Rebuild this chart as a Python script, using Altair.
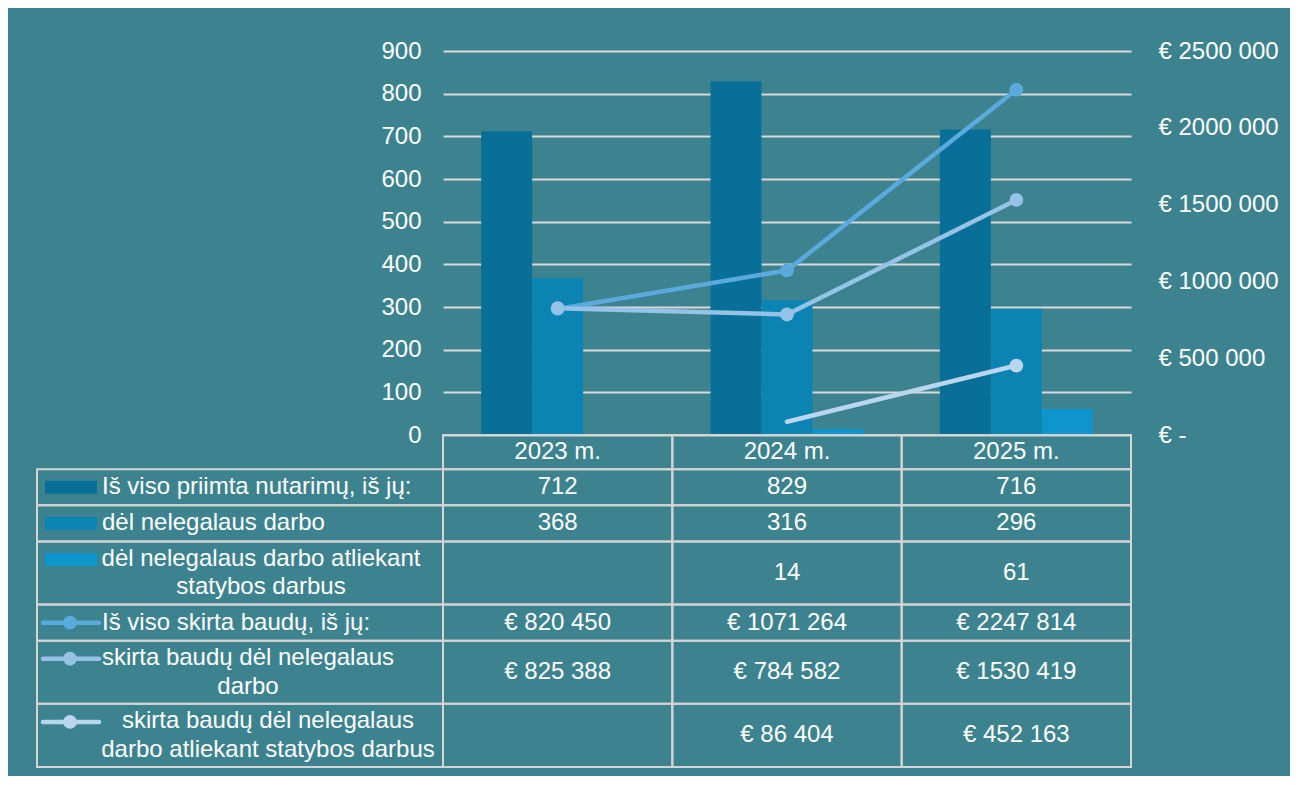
import altair as alt
import pandas as pd
import numpy as np

# ---------------- data ----------------
years = ["2023 m.", "2024 m.", "2025 m."]

bar_series = ["Iš viso priimta nutarimų, iš jų:",
              "dėl nelegalaus darbo",
              "dėl nelegalaus darbo atliekant statybos darbus"]
decisions_total = [712, 829, 716]
decisions_illegal = [368, 316, 296]
decisions_construction = [None, 14, 61]

line_series = ["Iš viso skirta baudų, iš jų:",
               "skirta baudų dėl nelegalaus darbo",
               "skirta baudų dėl nelegalaus darbo atliekant statybos darbus"]
fines_total = [820450, 1071264, 2247814]
fines_illegal = [825388, 784582, 1530419]
fines_construction = [None, 86404, 452163]

legend_labels = ["Iš viso priimta nutarimų, iš jų:",
                 "dėl nelegalaus darbo",
                 "dėl nelegalaus darbo atliekant\nstatybos darbus",
                 "Iš viso skirta baudų, iš jų:",
                 "skirta baudų dėl nelegalaus\ndarbo",
                 "skirta baudų dėl nelegalaus\ndarbo atliekant statybos darbus"]

left_ticks = list(range(0, 901, 100))
right_ticks = [0, 500000, 1000000, 1500000, 2000000, 2500000]

# ---------------- style ----------------
bar_colors = ["#086f99", "#0b84b4", "#0e96cc"]
line_colors = ["#5aaade", "#95c2e6", "#b9d6ee"]
BG = "#3d838f"
GRID = "#d9d9d9"
TLINE = "#d4d4d4"
FONT = "Liberation Sans"
FS = 24
LH = 28.5
LEFT_W, RIGHT_W = 406, 688
TOP_H, TABLE_H = 384, 332
HEADER_W = 0.95

all_series = bar_series + line_series
all_colors = bar_colors + line_colors
color_scale = alt.Scale(domain=all_series, range=all_colors)

# ---------------- frames ----------------
bar_rows = []
for s, vals in zip(bar_series, [decisions_total, decisions_illegal, decisions_construction]):
    for yr, v in zip(years, vals):
        if v is not None:
            bar_rows.append({"year": yr, "series": s, "value": v})
bars_df = pd.DataFrame(bar_rows)

line_rows = []
for s, vals in zip(line_series, [fines_total, fines_illegal, fines_construction]):
    for yr, v in zip(years, vals):
        if v is not None:
            line_rows.append({"year": yr, "series": s, "value": v})
lines_df = pd.DataFrame(line_rows)
no_marker = {(line_series[2], "2024 m.")}
points_df = lines_df[[(s, y) not in no_marker for s, y in zip(lines_df.series, lines_df.year)]]


def euro(v):
    return "" if v is None else f"€ {v // 1000} {v % 1000:03d}"


def num(v):
    return "" if v is None else str(v)


n_lines = [lab.count("\n") + 1 for lab in legend_labels]
weights = [HEADER_W] + [1.0 if n == 1 else 1.75 for n in n_lines]
bottoms = np.cumsum(weights)
tops = bottoms - np.array(weights)
total_units = float(bottoms[-1])

row_texts = [years,
             [num(v) for v in decisions_total],
             [num(v) for v in decisions_illegal],
             [num(v) for v in decisions_construction],
             [euro(v) for v in fines_total],
             [euro(v) for v in fines_illegal],
             [euro(v) for v in fines_construction]]
cell_rows = []
for r, texts in enumerate(row_texts):
    for yr, t in zip(years, texts):
        cell_rows.append({"row": r, "year": yr, "text": t, "top": tops[r],
                          "bottom": bottoms[r], "mid": (tops[r] + bottoms[r]) / 2})
cells_df = pd.DataFrame(cell_rows)

leg_df = pd.DataFrame({
    "row": list(range(1, 7)),
    "label": legend_labels,
    "series": all_series,
    "kind": ["bar"] * 3 + ["line"] * 3,
    "lines": n_lines,
    "top": tops[1:],
    "bottom": bottoms[1:],
})
leg_df["mid"] = (leg_df["top"] + leg_df["bottom"]) / 2
leg_df["sw"] = leg_df["top"] + 0.5

# ---------------- panel A (spacer) ----------------
panelA = alt.Chart(pd.DataFrame({"t": [""]})).mark_text().encode(
    text="t:N").properties(width=LEFT_W, height=TOP_H)

# ---------------- panel B (bars + lines) ----------------
xB = alt.X("year:N", sort=years, axis=None,
           scale=alt.Scale(domain=years, paddingInner=0.333, paddingOuter=0.1665))

bars = alt.Chart(bars_df).mark_bar().encode(
    x=xB,
    xOffset=alt.XOffset("series:N", sort=bar_series,
                        scale=alt.Scale(domain=bar_series, paddingInner=0, paddingOuter=0)),
    y=alt.Y("value:Q", scale=alt.Scale(domain=[0, 900], nice=False),
            axis=alt.Axis(orient="left", values=left_ticks, grid=True, gridColor=GRID,
                          gridWidth=2, domain=False, ticks=False, labelColor="white",
                          labelFont=FONT, labelFontSize=FS, labelPadding=22, title=None)),
    color=alt.Color("series:N", scale=color_scale, legend=None),
)

yR = alt.Y("value:Q", scale=alt.Scale(domain=[0, 2500000], nice=False),
           axis=alt.Axis(orient="right", values=right_ticks, grid=False, domain=False,
                         ticks=False, labelColor="white", labelFont=FONT, labelFontSize=FS,
                         labelPadding=27, title=None,
                         labelExpr="datum.value == 0 ? '€ -' : '€ ' + format(datum.value / 1000, 'd') + ' 000'"))

lines = alt.Chart(lines_df).mark_line(strokeWidth=4.5, strokeCap="round", strokeJoin="round").encode(
    x=alt.X("year:N", sort=years),
    y=yR,
    color=alt.Color("series:N", scale=color_scale, legend=None),
)
points = alt.Chart(points_df).mark_circle(size=190, opacity=1).encode(
    x=alt.X("year:N", sort=years),
    y=yR,
    color=alt.Color("series:N", scale=color_scale, legend=None),
)

panelB = alt.layer(bars, alt.layer(lines, points)).resolve_scale(y="independent").properties(
    width=RIGHT_W, height=TOP_H)

# ---------------- panel C (legend column) ----------------
yT = alt.Scale(domain=[0, total_units], reverse=True, nice=False, zero=False)

c_cells = alt.Chart(leg_df).mark_rect(fillOpacity=0, stroke=TLINE, strokeWidth=2).encode(
    x=alt.value(0), x2=alt.value(LEFT_W),
    y=alt.Y("top:Q", scale=yT, axis=None), y2="bottom:Q")

c_barsw = alt.Chart(leg_df).transform_filter("datum.kind == 'bar'").mark_point(
    shape="M-1,-0.25H1V0.25H-1Z", size=52 * 52, filled=True, opacity=1, strokeWidth=0).encode(
    x=alt.value(34), y=alt.Y("sw:Q", scale=yT, axis=None),
    color=alt.Color("series:N", scale=color_scale, legend=None))

c_linesw = alt.Chart(leg_df).transform_filter("datum.kind == 'line'").mark_rule(
    strokeWidth=4.5, strokeCap="round").encode(
    x=alt.value(6), x2=alt.value(62), y=alt.Y("sw:Q", scale=yT, axis=None),
    color=alt.Color("series:N", scale=color_scale, legend=None))

c_dot = alt.Chart(leg_df).transform_filter("datum.kind == 'line'").mark_circle(
    size=190, opacity=1).encode(
    x=alt.value(33), y=alt.Y("sw:Q", scale=yT, axis=None),
    color=alt.Color("series:N", scale=color_scale, legend=None))

c_text_single = alt.Chart(leg_df).transform_filter("datum.lines == 1").mark_text(
    font=FONT, fontSize=FS, color="white", align="left", baseline="middle").encode(
    x=alt.value(65), y=alt.Y("mid:Q", scale=yT, axis=None), text="label:N")

multi_centers = {3: 224, 5: 211, 6: 231}
c_multi = []
for r, cx in multi_centers.items():
    c_multi.append(
        alt.Chart(leg_df).transform_filter(f"datum.row == {r}").mark_text(
            font=FONT, fontSize=FS, color="white", align="center", baseline="middle",
            lineBreak="\n", lineHeight=LH, dy=-LH / 2).encode(
            x=alt.value(cx), y=alt.Y("mid:Q", scale=yT, axis=None), text="label:N"))

panelC = alt.layer(c_cells, c_barsw, c_linesw, c_dot, c_text_single, *c_multi).properties(
    width=LEFT_W, height=TABLE_H)

# ---------------- panel D (values table) ----------------
xD = alt.X("year:N", sort=years, axis=None,
           scale=alt.Scale(domain=years, paddingInner=0, paddingOuter=0))
d_cells = alt.Chart(cells_df).mark_rect(fillOpacity=0, stroke=TLINE, strokeWidth=2).encode(
    x=xD, y=alt.Y("top:Q", scale=yT, axis=None), y2="bottom:Q")
d_text = alt.Chart(cells_df).mark_text(
    font=FONT, fontSize=FS, color="white", align="center", baseline="middle").encode(
    x=xD, y=alt.Y("mid:Q", scale=yT, axis=None), text="text:N")
panelD = alt.layer(d_cells, d_text).properties(width=RIGHT_W, height=TABLE_H)

# ---------------- assemble ----------------
chart = alt.concat(panelA, panelB, panelC, panelD, columns=2, spacing=0, bounds="flush").resolve_scale(
    x="independent", y="independent"
).properties(
    background=BG,
    padding={"left": 28, "top": 31, "right": 11, "bottom": 8},
).configure_view(stroke=None)

chart.save("out.html", embed_options={"renderer": "svg", "actions": False})
